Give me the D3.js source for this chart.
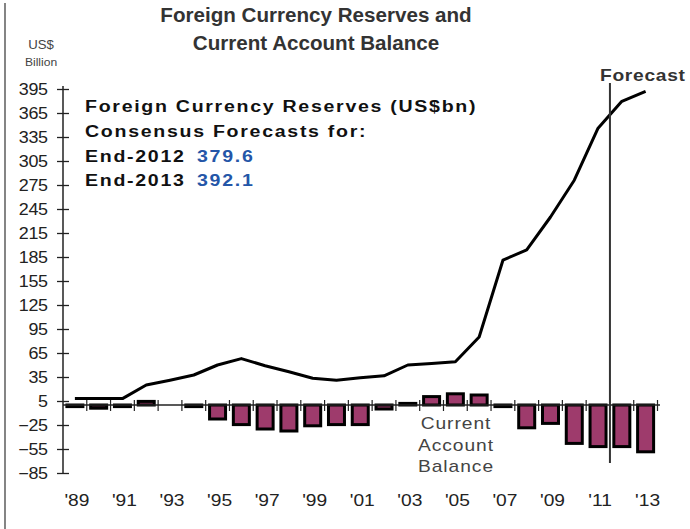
<!DOCTYPE html>
<html><head><meta charset="utf-8">
<script src="https://cdn.jsdelivr.net/npm/d3@7"></script>
<style>
html,body{margin:0;padding:0;background:#fff;}
svg{display:block;}
text{font-family:"Liberation Sans",Arial,sans-serif;}
</style></head>
<body>
<svg id="chart" width="690" height="529"></svg>
<script>
const years = [1989,1990,1991,1992,1993,1994,1995,1996,1997,1998,1999,2000,2001,2002,2003,2004,2005,2006,2007,2008,2009,2010,2011,2012,2013];
const reserves = [8,8,8,25,31,37.5,50,58,49,41.5,33.5,31,34,36.5,50,52,54,85,181,194,235,281,346,379.6,392.1];
const currentAccount = [-2,-4,-2,4.5,0,-2,-17.5,-24.5,-30,-32.5,-26,-24.5,-24.5,-5,2,10.5,14,12.5,-2,-28.5,-23,-48,-52,-52,-58.5];
const yTicks = [395,365,335,305,275,245,215,185,155,125,95,65,35,5,-25,-55,-85];
const xLabelYears = [1989,1991,1993,1995,1997,1999,2001,2003,2005,2007,2009,2011,2013];
const titleLines = ["Foreign Currency Reserves and","Current Account Balance"];
const noteLines = ["Foreign Currency Reserves (US$bn)","Consensus Forecasts for:"];
const forecastYears = ["End-2012","End-2013"];
const forecastValues = ["379.6","392.1"];
const balanceLabel = ["Current","Account","Balance"];
const forecastStartYear = 2012;

const svg = d3.select("#chart");

const y = d3.scaleLinear().domain([-85,395]).range([473,89]);
const x = d3.scaleBand().domain(years).range([63,657.5]).padding(0);

// stretched text helper (reference text is horizontally widened)
function stext(parent, px, py, str, sx, attrs){
  const g = parent.append("g").attr("transform",`translate(${px},${py}) scale(${sx},1)`);
  const t = g.append("text").attr("x",0).attr("y",0).text(str);
  Object.entries(attrs).forEach(([k,v])=>t.attr(k,v));
  return t;
}

// left frame line
svg.append("line").attr("x1",5).attr("x2",5).attr("y1",3).attr("y2",529)
  .attr("stroke","#333").attr("stroke-width",1.2);

// title
titleLines.forEach((d,i)=>stext(svg,316,22+i*28,d,1.03,
  {"text-anchor":"middle","font-weight":"bold","font-size":20,"fill":"#333"}));

// units
stext(svg,41,49,"US$",1.1,{"text-anchor":"middle","font-size":12,"fill":"#444"});
stext(svg,41,66,"Billion",1.05,{"text-anchor":"middle","font-size":11.5,"fill":"#444"});

// y axis
const yAxis = d3.axisLeft(y).tickValues(yTicks).tickSize(0).tickPadding(11);
const gy = svg.append("g").attr("transform","translate(63,0)").call(yAxis);
gy.select(".domain").attr("stroke","#222").attr("stroke-width",1.5).attr("d","M0,86V473");
gy.selectAll(".tick line").attr("x1",-6).attr("x2",6).attr("stroke","#222").attr("stroke-width",1.3);
gy.selectAll(".tick text").attr("font-size",16).attr("fill","#222")
  .attr("font-family","Liberation Sans, Arial, sans-serif").attr("letter-spacing","-0.3")
  .attr("transform","translate(-3,0) scale(1.12,1)");

// bars
svg.append("g").selectAll("rect").data(years).join("rect")
  .attr("x",(d)=>x(d)+x.bandwidth()/2-8)
  .attr("width",16)
  .attr("y",(d,i)=>Math.min(y(0),y(currentAccount[i])))
  .attr("height",(d,i)=>Math.abs(y(currentAccount[i])-y(0)))
  .attr("fill","#9e3b6c").attr("stroke","#000").attr("stroke-width",3);

// x axis
svg.append("line").attr("x1",63).attr("x2",660).attr("y1",y(0)).attr("y2",y(0))
  .attr("stroke","#222").attr("stroke-width",1.4);
svg.append("g").selectAll("line").data(years.slice(1).concat([2014])).join("line")
  .attr("x1",d=>d===2014 ? 657.5 : x(d)).attr("x2",d=>d===2014 ? 657.5 : x(d))
  .attr("y1",y(0)-5).attr("y2",y(0)+6).attr("stroke","#222").attr("stroke-width",1.2);

const gx = svg.append("g");
xLabelYears.forEach(d=>stext(gx,x(d)+x.bandwidth()/2+2,506,"'"+String(d).slice(2),1.2,
  {"text-anchor":"middle","font-size":16,"fill":"#222"}));

// reserves line
const line = d3.line().x((d,i)=>x(years[i])+x.bandwidth()/2).y(d=>y(d));
svg.append("path").datum(reserves).attr("d",line)
  .attr("fill","none").attr("stroke","#000").attr("stroke-width",3)
  .attr("stroke-linejoin","round");

// forecast divider
svg.append("line").attr("x1",x(forecastStartYear)).attr("x2",x(forecastStartYear))
  .attr("y1",83).attr("y2",463).attr("stroke","#333").attr("stroke-width",2);
stext(svg,600,81,"Forecast",1.2,{"font-size":16,"font-weight":"bold","fill":"#333","letter-spacing":"0.6"});

// annotation
const note = svg.append("g");
const noteAttrs = {"font-size":17,"font-weight":"bold","letter-spacing":"1.5","fill":"#111"};
noteLines.forEach((d,i)=>stext(note,85,112+i*25,d,1.15,noteAttrs));
forecastYears.forEach((d,i)=>stext(note,85,162+i*24,d,1.15,noteAttrs));
forecastValues.forEach((d,i)=>stext(note,197,162+i*24,d,1.15,
  Object.assign({},noteAttrs,{"fill":"#2456a8"})));

// current account label
balanceLabel.forEach((d,i)=>stext(svg,456,429+i*21.5,d,1.2,
  {"text-anchor":"middle","font-size":16,"fill":"#444","letter-spacing":"0.8"}));
</script>
</body></html>
